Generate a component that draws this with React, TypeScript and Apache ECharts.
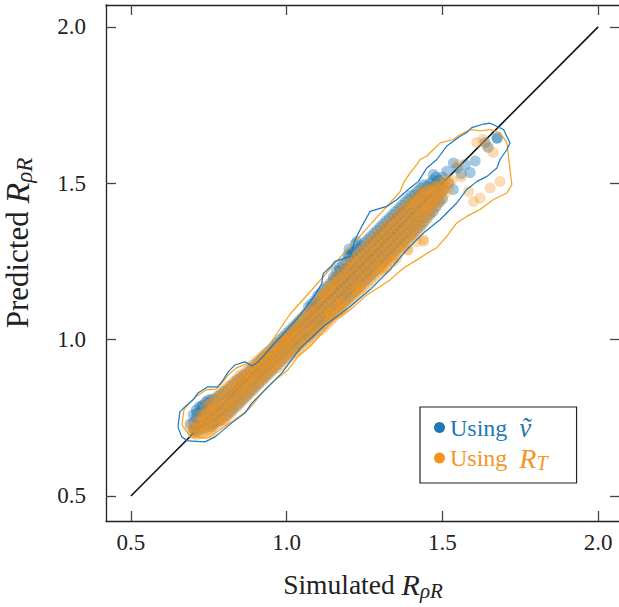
import React, { useEffect, useRef } from "react";
import * as echarts from "echarts";

const BLUE = "#1f77b4";
const ORANGE = "#f7941d";
const AXIS_MIN = 0.42;
const AXIS_MAX = 2.07;
const NAME_B = "Using ṽ";
const NAME_O = "Using R_T";

const tickValues = [0.5, 1.0, 1.5, 2.0];
const diagonal = [[0.5, 0.5], [2.0, 2.0]];

// Dense band, orange: each row = [x, y values read along that column]
const orangeColumns = [
  [0.70, 0.70, 0.72], [0.71, 0.695, 0.715, 0.735], [0.72, 0.70, 0.72, 0.74, 0.76],
  [0.73, 0.70, 0.72, 0.74, 0.76], [0.74, 0.705, 0.725, 0.745, 0.765, 0.785],
  [0.75, 0.71, 0.73, 0.75, 0.77, 0.795], [0.76, 0.72, 0.74, 0.76, 0.78, 0.80],
  [0.77, 0.725, 0.745, 0.765, 0.785, 0.81], [0.78, 0.73, 0.755, 0.775, 0.795, 0.82],
  [0.79, 0.74, 0.76, 0.785, 0.805, 0.83], [0.80, 0.745, 0.77, 0.795, 0.815, 0.84],
  [0.81, 0.755, 0.78, 0.80, 0.825, 0.85], [0.82, 0.765, 0.79, 0.81, 0.835, 0.855],
  [0.83, 0.775, 0.80, 0.82, 0.845, 0.865], [0.84, 0.785, 0.81, 0.83, 0.855, 0.875],
  [0.85, 0.795, 0.82, 0.84, 0.86, 0.885], [0.86, 0.805, 0.83, 0.85, 0.87, 0.89],
  [0.87, 0.815, 0.84, 0.86, 0.88, 0.90], [0.88, 0.825, 0.85, 0.87, 0.89, 0.91],
  [0.89, 0.835, 0.86, 0.88, 0.90, 0.92], [0.90, 0.845, 0.87, 0.89, 0.91, 0.925],
  [0.91, 0.855, 0.875, 0.90, 0.92, 0.935], [0.92, 0.865, 0.885, 0.91, 0.93, 0.945],
  [0.93, 0.875, 0.895, 0.92, 0.94, 0.955], [0.94, 0.885, 0.905, 0.925, 0.945, 0.96],
  [0.95, 0.895, 0.915, 0.935, 0.955, 0.965], [0.96, 0.905, 0.925, 0.945, 0.965, 0.975],
  [0.97, 0.91, 0.93, 0.955, 0.975, 0.985], [0.98, 0.92, 0.94, 0.965, 0.985, 0.995],
  [0.99, 0.93, 0.95, 0.975, 0.995, 1.005], [1.00, 0.94, 0.96, 0.98, 1.00, 1.01],
  [1.01, 0.945, 0.965, 0.99, 1.01, 1.02], [1.02, 0.955, 0.975, 1.00, 1.02, 1.035],
  [1.03, 0.96, 0.985, 1.01, 1.03, 1.045], [1.04, 0.97, 0.995, 1.02, 1.04, 1.06],
  [1.05, 0.98, 1.00, 1.025, 1.05, 1.07], [1.06, 0.99, 1.01, 1.035, 1.06, 1.08],
  [1.07, 0.995, 1.02, 1.045, 1.07, 1.09], [1.08, 1.005, 1.03, 1.055, 1.08, 1.10],
  [1.09, 1.015, 1.04, 1.065, 1.09, 1.11], [1.10, 1.025, 1.05, 1.075, 1.10, 1.125],
  [1.11, 1.03, 1.055, 1.08, 1.105, 1.13, 1.14], [1.12, 1.04, 1.065, 1.09, 1.115, 1.14, 1.15],
  [1.13, 1.05, 1.075, 1.10, 1.125, 1.15, 1.165], [1.14, 1.06, 1.085, 1.11, 1.135, 1.16, 1.175],
  [1.15, 1.07, 1.095, 1.12, 1.145, 1.17, 1.185], [1.16, 1.08, 1.105, 1.13, 1.155, 1.18, 1.20],
  [1.17, 1.085, 1.11, 1.14, 1.165, 1.19, 1.21], [1.18, 1.095, 1.12, 1.15, 1.175, 1.20, 1.22],
  [1.19, 1.105, 1.13, 1.16, 1.185, 1.21, 1.235], [1.20, 1.12, 1.145, 1.17, 1.195, 1.22, 1.245],
  [1.21, 1.13, 1.155, 1.18, 1.205, 1.23, 1.255], [1.22, 1.14, 1.165, 1.19, 1.215, 1.24, 1.265],
  [1.23, 1.15, 1.175, 1.20, 1.225, 1.25, 1.275], [1.24, 1.16, 1.185, 1.21, 1.235, 1.26, 1.285],
  [1.25, 1.17, 1.195, 1.22, 1.245, 1.27, 1.295], [1.26, 1.18, 1.205, 1.23, 1.255, 1.28, 1.305],
  [1.27, 1.19, 1.215, 1.24, 1.265, 1.29, 1.315], [1.28, 1.20, 1.225, 1.25, 1.275, 1.30, 1.325],
  [1.29, 1.21, 1.235, 1.26, 1.285, 1.31, 1.335], [1.30, 1.22, 1.245, 1.27, 1.295, 1.32, 1.345],
  [1.31, 1.23, 1.255, 1.28, 1.305, 1.33, 1.355], [1.32, 1.24, 1.265, 1.29, 1.315, 1.34, 1.365],
  [1.33, 1.25, 1.275, 1.30, 1.325, 1.35, 1.375], [1.34, 1.26, 1.285, 1.31, 1.335, 1.36, 1.385],
  [1.35, 1.27, 1.295, 1.32, 1.345, 1.37, 1.395], [1.36, 1.28, 1.305, 1.33, 1.355, 1.38, 1.405],
  [1.37, 1.29, 1.315, 1.34, 1.365, 1.39, 1.415], [1.38, 1.30, 1.325, 1.35, 1.375, 1.40, 1.425],
  [1.39, 1.31, 1.335, 1.36, 1.385, 1.41, 1.435], [1.40, 1.325, 1.35, 1.375, 1.40, 1.425, 1.44],
  [1.41, 1.335, 1.36, 1.385, 1.41, 1.435, 1.45], [1.42, 1.35, 1.375, 1.40, 1.42, 1.445, 1.46],
  [1.43, 1.36, 1.385, 1.41, 1.43, 1.455, 1.47], [1.44, 1.375, 1.40, 1.42, 1.44, 1.465, 1.48],
  [1.45, 1.385, 1.41, 1.43, 1.45, 1.475], [1.46, 1.40, 1.42, 1.44, 1.46, 1.48],
  [1.47, 1.415, 1.435, 1.455, 1.475, 1.49], [1.48, 1.43, 1.45, 1.47, 1.49],
  [1.49, 1.44, 1.46, 1.48, 1.50], [1.50, 1.455, 1.475, 1.495], [1.51, 1.47, 1.49, 1.51],
  [1.52, 1.485, 1.505],
];

// Scattered, lighter orange points off the band
const orangeStray = [
  [1.085, 1.031], [1.139, 1.074], [1.139, 1.086], [1.171, 1.10], [1.171, 1.117], [1.225, 1.159],
  [1.236, 1.165], [1.30, 1.229], [1.31, 1.223], [1.321, 1.229], [1.343, 1.25], [1.353, 1.261],
  [1.386, 1.288], [1.391, 1.287], [1.418, 1.314], [1.439, 1.319], [1.439, 1.314], [1.584, 1.474],
  [1.60, 1.442], [1.621, 1.453], [1.653, 1.485], [1.685, 1.506], [1.61, 1.63], [1.63, 1.64],
  [1.643, 1.619], [1.663, 1.598], [1.55, 1.56], [1.53, 1.51], [1.56, 1.52], [0.69, 0.72],
  [0.76, 0.70], [0.80, 0.74],
];

// Dense band, blue (mostly hidden below the orange)
const blueColumns = [
  [0.70, 0.71, 0.735, 0.76], [0.71, 0.705, 0.725, 0.75, 0.775], [0.72, 0.715, 0.74, 0.765, 0.785],
  [0.73, 0.715, 0.74, 0.765, 0.79], [0.74, 0.72, 0.745, 0.77, 0.80], [0.75, 0.725, 0.75, 0.775, 0.80],
  [0.76, 0.73, 0.755, 0.78, 0.81], [0.77, 0.735, 0.76, 0.785, 0.81], [0.78, 0.74, 0.765, 0.79, 0.82],
  [0.79, 0.745, 0.77, 0.795, 0.825], [0.80, 0.755, 0.78, 0.805, 0.835], [0.81, 0.76, 0.785, 0.81, 0.84],
  [0.82, 0.77, 0.795, 0.82, 0.85], [0.83, 0.78, 0.805, 0.83, 0.86], [0.84, 0.79, 0.815, 0.84, 0.87],
  [0.85, 0.80, 0.825, 0.85, 0.875], [0.86, 0.81, 0.835, 0.86, 0.885], [0.87, 0.82, 0.845, 0.87, 0.89],
  [0.88, 0.83, 0.855, 0.88, 0.90], [0.89, 0.84, 0.865, 0.89, 0.91], [0.90, 0.85, 0.875, 0.90, 0.92],
  [0.91, 0.86, 0.885, 0.91, 0.93], [0.92, 0.87, 0.895, 0.92, 0.94], [0.93, 0.88, 0.905, 0.93, 0.95],
  [0.94, 0.89, 0.915, 0.94, 0.96], [0.95, 0.90, 0.925, 0.95, 0.97], [0.96, 0.91, 0.935, 0.96, 0.98],
  [0.97, 0.92, 0.945, 0.97, 0.99], [0.98, 0.93, 0.955, 0.98, 1.00], [0.99, 0.94, 0.965, 0.99, 1.01],
  [1.00, 0.95, 0.975, 1.00, 1.02], [1.01, 0.96, 0.985, 1.01, 1.03], [1.02, 0.97, 0.995, 1.02, 1.04],
  [1.03, 0.975, 1.00, 1.025, 1.05], [1.04, 0.985, 1.01, 1.035, 1.06], [1.05, 0.995, 1.02, 1.045, 1.07],
  [1.06, 1.005, 1.03, 1.055, 1.08], [1.07, 1.01, 1.035, 1.06, 1.085, 1.105],
  [1.08, 1.02, 1.045, 1.07, 1.095, 1.115], [1.09, 1.03, 1.055, 1.08, 1.105, 1.125],
  [1.10, 1.04, 1.065, 1.09, 1.115, 1.14], [1.11, 1.05, 1.075, 1.10, 1.125, 1.15],
  [1.12, 1.06, 1.085, 1.11, 1.135, 1.16], [1.13, 1.07, 1.095, 1.12, 1.145, 1.17],
  [1.14, 1.08, 1.105, 1.13, 1.155, 1.18], [1.15, 1.09, 1.115, 1.14, 1.165, 1.19],
  [1.16, 1.10, 1.125, 1.15, 1.175, 1.20, 1.22], [1.17, 1.105, 1.13, 1.155, 1.18, 1.205, 1.23],
  [1.18, 1.115, 1.14, 1.165, 1.19, 1.215, 1.24], [1.19, 1.125, 1.15, 1.175, 1.20, 1.225, 1.25],
  [1.20, 1.135, 1.16, 1.185, 1.21, 1.235, 1.265, 1.29], [1.21, 1.145, 1.17, 1.195, 1.22, 1.245, 1.275],
  [1.22, 1.155, 1.18, 1.205, 1.23, 1.255, 1.28, 1.305], [1.23, 1.165, 1.19, 1.215, 1.24, 1.265, 1.29],
  [1.24, 1.175, 1.20, 1.225, 1.25, 1.275, 1.30], [1.25, 1.185, 1.21, 1.235, 1.26, 1.285, 1.31],
  [1.26, 1.195, 1.22, 1.245, 1.27, 1.295, 1.32], [1.27, 1.205, 1.23, 1.255, 1.28, 1.305, 1.33],
  [1.28, 1.215, 1.24, 1.265, 1.29, 1.315, 1.34], [1.29, 1.225, 1.25, 1.275, 1.30, 1.325, 1.35],
  [1.30, 1.235, 1.26, 1.285, 1.31, 1.335, 1.36], [1.31, 1.245, 1.27, 1.295, 1.32, 1.345, 1.37],
  [1.32, 1.255, 1.28, 1.305, 1.33, 1.355, 1.38], [1.33, 1.265, 1.29, 1.315, 1.34, 1.365, 1.39],
  [1.34, 1.275, 1.30, 1.325, 1.35, 1.375, 1.40], [1.35, 1.285, 1.31, 1.335, 1.36, 1.385, 1.41],
  [1.36, 1.295, 1.32, 1.345, 1.37, 1.395, 1.42], [1.37, 1.305, 1.33, 1.355, 1.38, 1.405, 1.43],
  [1.38, 1.315, 1.34, 1.365, 1.39, 1.415, 1.44], [1.39, 1.325, 1.35, 1.375, 1.40, 1.425, 1.45],
  [1.40, 1.335, 1.36, 1.385, 1.41, 1.435, 1.46], [1.41, 1.345, 1.37, 1.395, 1.42, 1.445, 1.465],
  [1.42, 1.355, 1.38, 1.405, 1.43, 1.455, 1.475], [1.43, 1.365, 1.39, 1.415, 1.44, 1.465, 1.485],
  [1.44, 1.375, 1.40, 1.425, 1.45, 1.475, 1.495], [1.45, 1.39, 1.415, 1.44, 1.465, 1.49],
  [1.46, 1.40, 1.425, 1.45, 1.475, 1.50], [1.47, 1.41, 1.435, 1.46, 1.49, 1.51],
  [1.48, 1.425, 1.45, 1.475, 1.50, 1.52], [1.49, 1.44, 1.465, 1.49, 1.51],
  [1.50, 1.45, 1.475, 1.50, 1.52],
];

const blueStray = [
  [0.69, 0.73], [0.706, 0.711], [0.711, 0.764], [0.727, 0.785], [0.748, 0.807], [0.759, 0.721],
  [1.15, 1.20], [1.17, 1.22], [1.197, 1.271], [1.209, 1.282], [1.225, 1.314], [1.471, 1.528],
  [1.503, 1.48], [1.514, 1.538], [1.52, 1.50], [1.535, 1.565], [1.535, 1.48], [1.546, 1.549],
  [1.56, 1.53], [1.573, 1.56], [1.589, 1.534], [1.605, 1.571], [1.637, 1.63], [1.647, 1.614],
  [1.675, 1.645], [1.676, 1.644],
];

const blueContour = [
  [0.651, 0.721], [0.657, 0.769], [0.673, 0.785], [0.699, 0.807], [0.715, 0.829], [0.747, 0.849],
  [0.779, 0.849], [0.796, 0.871], [0.812, 0.897], [0.834, 0.919], [0.866, 0.929], [0.888, 0.916],
  [0.908, 0.929], [0.952, 0.978], [0.995, 1.025], [1.036, 1.070], [1.080, 1.127], [1.113, 1.179],
  [1.117, 1.211], [1.142, 1.234], [1.155, 1.250], [1.204, 1.266], [1.220, 1.320], [1.241, 1.362],
  [1.268, 1.410], [1.321, 1.426], [1.354, 1.448], [1.396, 1.485], [1.423, 1.506], [1.450, 1.549],
  [1.482, 1.576], [1.514, 1.619], [1.551, 1.646], [1.578, 1.662], [1.594, 1.678], [1.627, 1.688],
  [1.653, 1.692], [1.696, 1.672], [1.717, 1.629], [1.707, 1.608], [1.685, 1.576], [1.675, 1.549],
  [1.643, 1.522], [1.611, 1.506], [1.578, 1.480], [1.546, 1.437], [1.525, 1.416], [1.493, 1.384],
  [1.439, 1.341], [1.386, 1.288], [1.332, 1.224], [1.268, 1.160], [1.204, 1.106], [1.118, 1.042],
  [1.043, 0.972], [0.984, 0.893], [0.940, 0.849], [0.920, 0.829], [0.888, 0.797], [0.866, 0.765],
  [0.823, 0.733], [0.770, 0.689], [0.738, 0.673], [0.683, 0.676], [0.663, 0.689], [0.651, 0.721],
];

const orangeContour = [
  [0.664, 0.727], [0.670, 0.775], [0.690, 0.800], [0.712, 0.820], [0.741, 0.839], [0.773, 0.842],
  [0.792, 0.861], [0.812, 0.887], [0.837, 0.909], [0.869, 0.922], [0.902, 0.928], [0.946, 0.986],
  [1.011, 1.082], [1.075, 1.153], [1.117, 1.201], [1.171, 1.262], [1.225, 1.320], [1.277, 1.377],
  [1.332, 1.437], [1.364, 1.473], [1.375, 1.501], [1.396, 1.533], [1.418, 1.560], [1.428, 1.576],
  [1.450, 1.587], [1.471, 1.608], [1.493, 1.629], [1.535, 1.640], [1.557, 1.656], [1.589, 1.672],
  [1.621, 1.667], [1.653, 1.672], [1.685, 1.662], [1.707, 1.629], [1.712, 1.587], [1.717, 1.544],
  [1.723, 1.496], [1.707, 1.469], [1.664, 1.448], [1.621, 1.416], [1.578, 1.394], [1.546, 1.373],
  [1.514, 1.330], [1.482, 1.294], [1.460, 1.282], [1.418, 1.255], [1.375, 1.229], [1.332, 1.191],
  [1.300, 1.170], [1.257, 1.143], [1.204, 1.095], [1.150, 1.063], [1.075, 0.978], [1.036, 0.946],
  [1.004, 0.903], [0.963, 0.871], [0.930, 0.839], [0.876, 0.775], [0.823, 0.737], [0.747, 0.685],
  [0.690, 0.689], [0.664, 0.727],
];

const SERIF = "'Liberation Serif', 'DejaVu Serif', 'Times New Roman', serif";
const INK = "#222";

function columnsToPoints(cols: number[][]) {
  const out: number[][] = [];
  cols.forEach((c) => {
    for (let k = 1; k < c.length; k++) out.push([c[0], c[k]]);
  });
  return out;
}

function nameRich(size: number, math: number, sub: number, drop: number, lh: number) {
  return {
    n: { fontFamily: SERIF, fontSize: size, color: INK, lineHeight: lh },
    i: { fontFamily: SERIF, fontSize: math, color: INK, fontStyle: "italic", lineHeight: lh },
    s: { fontFamily: SERIF, fontSize: sub, color: INK, fontStyle: "italic", lineHeight: sub, padding: [drop, 0, 0, 0] },
  };
}

function axisBase(position: string, withLabels: boolean, margin = 10) {
  return {
    type: "value",
    min: AXIS_MIN,
    max: AXIS_MAX,
    position,
    axisLine: { show: true, onZero: false, lineStyle: { color: INK, width: 1.3 } },
    axisTick: { show: true, inside: true, length: 10, customValues: tickValues, lineStyle: { color: "#444", width: 1.3 } },
    axisLabel: withLabels
      ? { show: true, margin, customValues: tickValues, formatter: (v: number) => v.toFixed(1), fontFamily: SERIF, fontSize: 23, color: INK }
      : { show: false },
    splitLine: { show: false },
  };
}

export default function App() {
  const ref = useRef<HTMLDivElement>(null);
  useEffect(() => {
    if (!ref.current) return;
    const chart = echarts.init(ref.current, null, { renderer: "svg" });
    const bluePoints = columnsToPoints(blueColumns).concat(blueStray);
    const orangePoints = columnsToPoints(orangeColumns).concat(orangeStray);
    const option = {
      animation: false,
      backgroundColor: "#fff",
      grid: { left: 106, top: 5, width: 514, height: 516, containLabel: false, outerBoundsMode: "none" },
      xAxis: [
        {
          ...axisBase("bottom", true, 10),
          name: "{n|Simulated }{i|R}{s|ρR}",
          nameLocation: "middle",
          nameGap: 46,
          nameTextStyle: { fontFamily: SERIF, fontSize: 27.5, color: INK, rich: nameRich(27.5, 30, 21, 13, 34) },
        },
        { ...axisBase("top", false) },
      ],
      yAxis: [
        {
          ...axisBase("left", true, 20),
          name: "{n|Predicted }{i|R}{s|ρR}",
          nameLocation: "middle",
          nameRotate: 90,
          nameGap: 70,
          nameTextStyle: { fontFamily: SERIF, fontSize: 31, color: INK, padding: [0, 0, 0, 40], rich: nameRich(31, 34, 23, 14, 38) },
        },
        { ...axisBase("right", false) },
      ],
      legend: {
        show: true,
        orient: "vertical",
        left: 420,
        top: 407,
        padding: [7, 29, 10, 14],
        borderColor: INK,
        borderWidth: 1.2,
        borderRadius: 0,
        backgroundColor: "#fff",
        itemWidth: 11,
        itemHeight: 11,
        itemGap: 2,
        data: [
          { name: NAME_B, icon: "circle", itemStyle: { color: BLUE, opacity: 1 } },
          { name: NAME_O, icon: "circle", itemStyle: { color: ORANGE, opacity: 1 } },
        ],
        formatter: (name: string) => (name === NAME_B ? "{b|Using }{bv|ṽ}" : "{o|Using }{oi|R}{os|T}"),
        textStyle: {
          fontFamily: SERIF,
          fontSize: 24,
          rich: {
            b: { fontFamily: SERIF, fontSize: 24, color: BLUE, lineHeight: 30 },
            bv: { fontFamily: SERIF, fontSize: 27, color: BLUE, fontStyle: "italic", lineHeight: 30, padding: [0, 0, 0, 6] },
            o: { fontFamily: SERIF, fontSize: 24, color: ORANGE, lineHeight: 30 },
            oi: { fontFamily: SERIF, fontSize: 28, color: ORANGE, fontStyle: "italic", lineHeight: 30, padding: [0, 0, 0, 6] },
            os: { fontFamily: SERIF, fontSize: 20, color: ORANGE, fontStyle: "italic", lineHeight: 20, padding: [10, 0, 0, 0] },
          },
        },
      },
      series: [
        {
          type: "line",
          data: diagonal,
          symbol: "none",
          silent: true,
          lineStyle: { color: "#111", width: 1.6 },
          z: 1,
        },
        {
          type: "scatter",
          name: NAME_B,
          data: bluePoints,
          symbolSize: 11,
          itemStyle: { color: BLUE, opacity: 0.4 },
          z: 2,
        },
        {
          type: "scatter",
          name: NAME_O,
          data: orangePoints,
          symbolSize: 11,
          itemStyle: { color: ORANGE, opacity: 0.33 },
          z: 3,
        },
        {
          type: "line",
          data: orangeContour,
          symbol: "none",
          silent: true,
          lineStyle: { color: "#f8a01e", width: 1.2 },
          z: 4,
        },
        {
          type: "line",
          data: blueContour,
          symbol: "none",
          silent: true,
          lineStyle: { color: "#1c79c0", width: 1.2 },
          z: 5,
        },
      ],
    };
    chart.setOption(option as any);
    return () => chart.dispose();
  }, []);
  return <div ref={ref} style={{ position: "fixed", left: 0, top: 0, width: 619, height: 607 }} />;
}
